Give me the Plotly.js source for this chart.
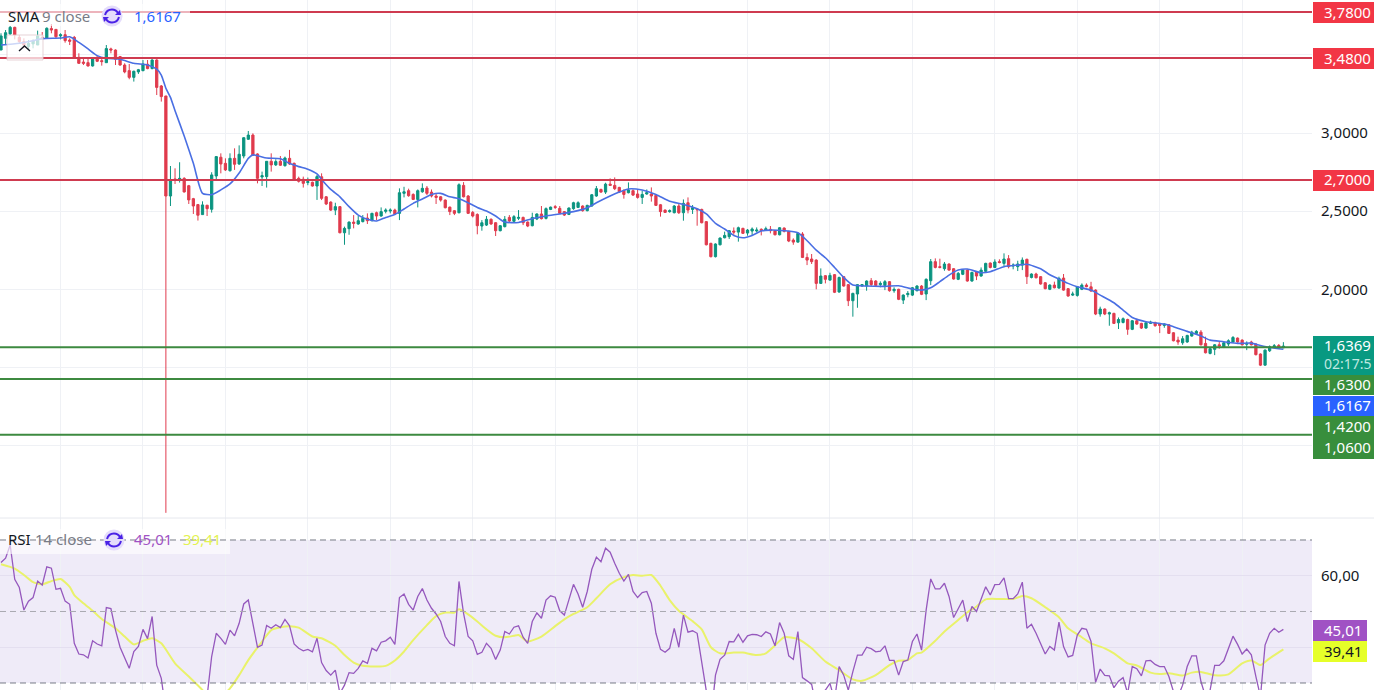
<!DOCTYPE html>
<html>
<head>
<meta charset="utf-8">
<script src="https://cdn.plot.ly/plotly-3.0.1.min.js"></script>
<style>html,body{margin:0;padding:0;background:#fff;overflow:hidden}#c{width:1374px;height:690px}</style>
</head>
<body>
<div id="c"></div>
<script>
const opens=[3.531,3.606,3.634,3.676,3.612,3.585,3.553,3.570,3.563,3.612,3.606,3.668,3.663,3.621,3.629,3.595,3.612,3.484,3.454,3.450,3.429,3.484,3.463,3.450,3.538,3.531,3.489,3.435,3.399,3.356,3.391,3.399,3.440,3.412,3.467,3.301,3.237,2.597,2.706,2.700,2.710,2.663,2.580,2.542,2.478,2.538,2.512,2.725,2.845,2.806,2.759,2.838,2.802,2.853,2.960,2.987,2.866,2.719,2.721,2.819,2.796,2.819,2.791,2.838,2.806,2.710,2.704,2.683,2.685,2.661,
2.720,2.592,2.558,2.507,2.529,2.362,2.388,2.430,2.418,2.433,2.456,2.439,2.490,2.469,2.499,2.501,2.507,2.486,2.614,2.631,2.607,2.575,2.624,2.648,2.622,2.597,2.592,2.571,2.526,2.503,2.490,2.665,2.597,2.492,2.479,2.405,2.411,2.448,2.426,2.375,2.401,2.460,2.435,2.454,2.460,2.430,2.407,2.450,2.482,2.454,2.511,2.529,2.518,2.497,2.479,2.516,2.524,2.533,2.503,2.533,2.597,2.639,2.622,2.673,2.665,2.652,2.633,2.618,2.631,2.610,2.588,2.610,2.610,2.601,2.541,2.507,2.497,2.490,2.533,2.490,2.554,
2.511,2.514,2.511,2.433,2.294,2.209,2.285,2.330,2.337,2.373,2.366,2.390,2.360,2.373,2.373,2.384,2.377,2.384,2.375,2.349,2.392,2.371,2.315,2.302,2.354,2.204,2.194,2.187,2.038,2.087,2.059,2.094,1.983,2.081,2.030,1.927,1.970,2.021,2.021,2.055,2.053,2.030,2.025,2.049,1.991,2.000,1.931,1.966,1.963,1.991,2.021,1.970,2.055,2.177,2.145,2.132,2.162,2.132,2.064,2.096,2.123,2.053,2.111,2.085,2.115,2.168,2.140,2.177,2.166,2.196,2.149,2.145,2.155,2.192,2.076,2.098,2.081,2.042,2.000,2.027,2.008,2.072,2.004,1.963,1.961,2.000,2.027,
2.016,1.995,1.842,1.874,1.842,1.846,1.786,1.788,1.807,1.744,1.799,1.782,1.752,1.782,1.788,1.778,1.769,1.773,1.722,1.675,1.658,1.663,1.701,1.718,1.726,1.654,1.590,1.616,1.645,1.628,1.650,1.663,1.688,1.675,1.648,1.663,1.650,1.586,1.515,1.607,1.631,1.641,1.626];
const highs=[3.638,3.659,3.685,3.680,3.627,3.606,3.595,3.599,3.655,3.646,3.676,3.697,3.663,3.638,3.659,3.606,3.621,3.510,3.478,3.478,3.484,3.493,3.484,3.563,3.546,3.535,3.493,3.446,3.442,3.399,3.410,3.467,3.467,3.472,3.472,3.307,3.237,2.789,2.774,2.813,2.717,2.668,2.585,2.546,2.563,2.540,2.749,2.853,2.870,2.838,2.870,2.902,2.921,2.973,3.013,2.998,2.870,2.753,2.821,2.870,2.832,2.853,2.849,2.892,2.811,2.721,2.721,2.715,2.689,2.732,
2.742,2.597,2.563,2.554,2.533,2.401,2.435,2.475,2.469,2.475,2.486,2.490,2.497,2.524,2.518,2.518,2.516,2.646,2.656,2.644,2.614,2.639,2.678,2.661,2.639,2.614,2.597,2.575,2.529,2.507,2.678,2.686,2.603,2.501,2.486,2.443,2.469,2.454,2.430,2.411,2.469,2.475,2.475,2.507,2.465,2.435,2.490,2.486,2.533,2.524,2.529,2.539,2.533,2.501,2.524,2.560,2.563,2.537,2.541,2.610,2.661,2.644,2.682,2.710,2.716,2.656,2.639,2.684,2.639,2.639,2.631,2.639,2.652,2.607,2.546,2.511,2.511,2.539,2.546,2.575,2.588,
2.539,2.516,2.516,2.437,2.298,2.294,2.332,2.369,2.379,2.396,2.401,2.394,2.386,2.396,2.396,2.390,2.401,2.405,2.379,2.398,2.396,2.375,2.326,2.362,2.366,2.230,2.226,2.192,2.134,2.091,2.106,2.098,2.081,2.085,2.034,1.978,2.034,2.034,2.057,2.072,2.059,2.051,2.059,2.053,2.013,2.004,1.968,1.989,2.015,2.027,2.027,2.070,2.194,2.198,2.196,2.175,2.166,2.136,2.111,2.130,2.128,2.113,2.115,2.140,2.170,2.172,2.192,2.192,2.230,2.219,2.166,2.183,2.204,2.196,2.102,2.106,2.085,2.047,2.032,2.049,2.081,2.098,2.008,1.985,2.021,2.038,2.038,
2.048,2.000,1.889,1.878,1.857,1.850,1.820,1.820,1.812,1.803,1.812,1.786,1.793,1.799,1.793,1.782,1.782,1.778,1.727,1.697,1.701,1.709,1.735,1.739,1.739,1.697,1.624,1.650,1.665,1.663,1.680,1.701,1.692,1.680,1.667,1.671,1.654,1.590,1.616,1.641,1.650,1.650,1.662];
const lows=[3.531,3.563,3.627,3.599,3.574,3.542,3.531,3.542,3.563,3.595,3.604,3.638,3.606,3.599,3.578,3.563,3.484,3.442,3.435,3.425,3.425,3.454,3.431,3.450,3.510,3.435,3.431,3.382,3.344,3.329,3.378,3.395,3.408,3.408,3.243,3.201,0.570,2.533,2.674,2.683,2.619,2.546,2.482,2.440,2.476,2.469,2.491,2.700,2.742,2.757,2.753,2.764,2.796,2.838,2.956,2.853,2.678,2.661,2.651,2.753,2.789,2.789,2.785,2.796,2.695,2.683,2.651,2.666,2.657,2.572,
2.571,2.539,2.501,2.475,2.358,2.285,2.349,2.390,2.413,2.428,2.418,2.435,2.443,2.465,2.486,2.486,2.479,2.443,2.588,2.592,2.571,2.524,2.618,2.603,2.588,2.546,2.561,2.518,2.475,2.475,2.486,2.588,2.482,2.460,2.352,2.375,2.405,2.413,2.341,2.371,2.396,2.430,2.430,2.443,2.411,2.398,2.403,2.443,2.447,2.447,2.507,2.514,2.482,2.469,2.475,2.509,2.520,2.497,2.499,2.529,2.592,2.618,2.610,2.661,2.635,2.616,2.580,2.614,2.597,2.580,2.546,2.605,2.561,2.533,2.465,2.490,2.490,2.486,2.482,2.439,2.486,
2.482,2.407,2.422,2.281,2.204,2.204,2.281,2.326,2.322,2.349,2.305,2.354,2.343,2.347,2.364,2.345,2.373,2.358,2.345,2.345,2.364,2.302,2.285,2.298,2.200,2.155,2.162,2.000,2.034,2.038,2.055,1.976,1.978,2.017,1.893,1.825,1.882,2.017,1.991,2.021,2.017,2.013,1.995,1.985,1.978,1.931,1.906,1.949,1.957,1.987,1.963,1.931,2.027,2.134,2.134,2.119,2.119,2.062,2.059,2.091,2.049,2.049,2.059,2.081,2.111,2.134,2.136,2.166,2.149,2.134,2.128,2.117,2.123,2.034,2.070,2.070,2.030,2.000,1.995,2.006,2.004,1.991,1.953,1.957,1.953,1.995,2.013,
1.984,1.835,1.825,1.835,1.767,1.778,1.746,1.782,1.709,1.739,1.773,1.746,1.748,1.778,1.761,1.720,1.754,1.714,1.667,1.645,1.645,1.658,1.697,1.714,1.641,1.590,1.584,1.579,1.620,1.624,1.637,1.658,1.658,1.641,1.611,1.641,1.577,1.509,1.511,1.599,1.622,1.620,1.624];
const closes=[3.621,3.642,3.676,3.627,3.585,3.563,3.574,3.591,3.621,3.604,3.670,3.659,3.616,3.629,3.591,3.587,3.484,3.446,3.446,3.429,3.478,3.459,3.457,3.540,3.531,3.472,3.435,3.391,3.356,3.395,3.405,3.442,3.412,3.467,3.292,3.233,2.597,2.700,2.700,2.710,2.623,2.572,2.533,2.474,2.540,2.516,2.732,2.849,2.802,2.764,2.838,2.800,2.864,2.970,2.987,2.857,2.710,2.727,2.819,2.796,2.817,2.794,2.840,2.802,2.700,2.691,2.678,2.689,2.661,2.721,
2.582,2.546,2.507,2.529,2.362,2.390,2.430,2.422,2.439,2.454,2.439,2.486,2.469,2.497,2.507,2.507,2.482,2.618,2.624,2.599,2.575,2.631,2.646,2.614,2.597,2.588,2.571,2.522,2.497,2.486,2.669,2.592,2.486,2.469,2.407,2.426,2.448,2.418,2.375,2.407,2.448,2.437,2.465,2.460,2.426,2.405,2.460,2.482,2.452,2.516,2.526,2.524,2.486,2.475,2.520,2.554,2.554,2.503,2.537,2.605,2.644,2.622,2.673,2.665,2.644,2.624,2.607,2.635,2.603,2.588,2.607,2.618,2.597,2.537,2.497,2.492,2.503,2.533,2.490,2.550,2.507,
2.522,2.509,2.426,2.285,2.209,2.290,2.328,2.345,2.375,2.366,2.394,2.358,2.379,2.386,2.379,2.375,2.388,2.375,2.349,2.394,2.371,2.309,2.302,2.358,2.204,2.187,2.177,2.038,2.085,2.064,2.089,1.981,2.076,2.021,1.927,1.974,2.030,2.030,2.053,2.030,2.025,2.038,2.049,1.991,2.000,1.936,1.963,1.974,2.010,2.021,1.968,2.064,2.177,2.140,2.140,2.162,2.123,2.066,2.102,2.123,2.053,2.108,2.085,2.123,2.166,2.140,2.175,2.172,2.194,2.145,2.155,2.162,2.187,2.081,2.098,2.074,2.034,2.004,2.027,2.010,2.070,1.995,1.957,1.970,2.017,2.027,2.017,
1.989,1.842,1.874,1.842,1.850,1.782,1.807,1.812,1.744,1.799,1.778,1.752,1.786,1.790,1.767,1.769,1.778,1.718,1.671,1.663,1.684,1.705,1.726,1.731,1.645,1.594,1.620,1.645,1.637,1.658,1.671,1.692,1.663,1.645,1.654,1.645,1.582,1.515,1.611,1.633,1.639,1.624,1.6369];

const smaIdx=[0,4,7,9,13,15,17,19,21,23,26,29,32,34,35,36,37,38,40,42,44,46,48,50,52,54,55,58,61,63,65,67,69,70,72,74,76,78,80,82,84,86,88,90,92,94,96,98,100,102,104,106,108,110,113,116,119,122,125,128,130,133,135,137,140,143,146,149,152,154,156,158,160,162,164,166,168,171,174,176,178,180,182,184,186,189,193,196,199,201,203,205,207,209,211,214,216,219,222,224,227,229,231,233,235,238,240,243,245,247,250,254,256,259,262,264,267,270,273,275,277,280];
const smaVal=[3.563,3.574,3.591,3.604,3.608,3.616,3.580,3.538,3.495,3.478,3.472,3.446,3.435,3.408,3.371,3.286,3.228,3.143,2.981,2.806,2.614,2.606,2.636,2.674,2.744,2.838,2.860,2.840,2.836,2.806,2.785,2.768,2.738,2.703,2.639,2.592,2.529,2.475,2.448,2.437,2.460,2.479,2.514,2.550,2.578,2.607,2.614,2.592,2.580,2.554,2.524,2.501,2.469,2.430,2.428,2.452,2.469,2.482,2.497,2.522,2.554,2.597,2.622,2.642,2.635,2.607,2.563,2.543,2.516,2.482,2.422,2.386,2.345,2.330,2.345,2.373,2.379,2.375,2.362,2.311,2.251,2.202,2.140,2.076,2.027,2.021,2.019,2.023,2.002,1.995,2.010,2.049,2.091,2.123,2.130,2.106,2.113,2.145,2.155,2.160,2.132,2.093,2.065,2.038,2.016,1.995,1.963,1.914,1.867,1.820,1.793,1.778,1.761,1.731,1.701,1.675,1.665,1.654,1.656,1.641,1.628,1.6167];

const rsiVal=[63.7,64.9,68.6,59.0,56.7,50.4,52.9,53.9,58.5,57.4,62.5,62.1,56.2,56.5,52.9,52.0,41.1,38.1,37.9,37.0,41.8,40.9,40.4,51.1,50.8,44.8,40.0,36.9,34.1,38.8,40.2,45.0,42.4,48.6,35.0,31.3,22.0,24.5,24.0,24.8,23.2,22.3,21.4,20.6,22.2,26.2,37.4,43.9,42.5,40.8,44.8,43.2,46.7,52.1,53.2,46.7,40.0,40.6,46.1,45.3,46.3,45.5,47.8,46.0,40.9,39.7,39.0,39.4,38.7,42.5,35.7,33.5,32.2,33.6,27.1,29.4,32.9,32.7,34.1,36.2,35.5,39.7,39.0,41.4,41.8,42.8,40.8,53.9,54.9,52.0,50.4,54.2,56.4,53.2,50.9,49.3,47.2,43.0,41.1,40.4,
58.4,49.5,43.0,41.8,38.0,38.6,41.1,39.7,36.6,39.2,44.4,43.7,45.6,46.0,42.8,41.1,47.2,49.6,48.1,53.2,54.4,54.0,50.2,49.0,53.2,57.6,54.9,51.2,55.6,61.8,65.2,63.9,67.7,66.6,63.5,60.7,58.5,60.4,55.6,53.9,55.3,55.6,52.3,43.9,39.4,38.6,39.7,45.3,40.0,49.0,44.2,44.6,43.9,35.5,27.6,19.7,32.2,36.6,37.8,41.6,41.5,43.6,41.4,43.2,43.6,43.5,43.0,44.3,43.7,40.4,46.9,43.9,37.6,36.6,44.4,31.5,30.6,29.6,23.4,27.1,28.0,29.9,25.2,34.6,32.2,28.0,33.2,37.8,37.8,40.0,39.6,38.7,38.9,40.4,36.3,36.3,32.2,36.0,36.4,41.6,43.7,
39.2,50.4,59.1,56.3,56.3,57.9,54.2,48.3,50.9,53.2,47.2,51.4,50.0,53.2,56.9,54.6,57.5,57.6,59.4,53.6,53.6,54.9,58.2,45.3,46.4,43.9,41.1,38.1,40.2,39.2,47.0,40.2,37.3,37.7,43.4,45.3,45.0,41.6,30.2,33.9,32.1,32.0,28.7,30.5,31.5,27.1,34.6,34.0,32.0,36.2,36.3,35.2,34.6,34.6,31.8,27.6,26.2,29.4,34.6,37.6,37.6,30.4,26.2,28.0,34.9,34.9,36.2,39.4,43.1,40.8,38.1,39.5,37.9,31.8,26.2,40.6,43.9,45.3,44.2,45.01];

const rsiMaIdx=[0,3,5,7,9,11,13,15,16,18,20,22,25,27,29,31,33,35,38,41,44,46,48,50,52,54,57,59,61,63,65,68,70,73,75,77,79,82,84,86,88,90,93,95,97,99,100,102,104,106,108,110,112,113,115,118,121,123,125,128,130,133,136,138,140,142,144,146,148,151,153,155,157,160,162,165,167,169,171,174,177,180,183,186,188,191,194,196,198,200,201,204,206,209,211,213,215,218,221,223,225,228,231,233,236,238,241,243,246,248,251,253,255,258,260,262,265,268,271,273,275,277,280];
const rsiMaVal=[63.2,62.0,60.2,58.2,57.6,58.5,59.1,56.9,54.6,52.3,50.2,47.9,45.3,43.0,40.8,41.8,42.5,41.1,35.5,31.8,28.0,24.8,26.2,28.5,32.2,36.4,41.6,44.8,45.6,45.9,45.5,43.0,42.5,40.4,37.8,35.7,34.8,34.6,34.8,36.3,38.8,42.0,46.2,48.7,49.7,49.7,50.6,49.2,47.2,45.0,43.2,42.8,43.2,43.4,41.6,43.0,45.9,47.8,49.3,51.2,53.7,57.6,59.6,60.2,60.0,60.2,57.2,53.2,50.2,47.3,45.0,40.0,38.3,38.5,38.5,37.8,38.3,40.5,42.8,42.3,39.7,36.0,33.6,31.0,30.6,32.2,35.0,36.2,36.4,38.3,38.5,41.8,44.4,47.6,49.8,51.4,53.4,53.5,53.5,54.3,53.7,51.2,48.4,45.3,42.8,41.1,39.7,38.3,35.5,34.9,32.9,32.5,32.7,32.1,32.9,33.1,32.2,32.4,35.5,36.3,35.0,36.9,39.41];

const gridIdx=[13,31,49,67,85,103,121,139,163,181,199,217,235,253,271];
const priceTicks=[1,1.5,2,2.5,3,3.5];
const priceTickText=['','','2,0000','2,5000','3,0000',''];
const rsiTicks=[40,60];
const rsiTickText=['','60,00'];
const resistance=[3.775,3.48,2.70];
const resistanceText=['3,7800','3,4800','2,7000'];
const support=[1.63,1.426,1.07];
const rsiBands=[70,50,30];

const W=1374,H=690,F='"Noto Sans", "Open Sans", sans-serif';
const px=x=>x/W, py=y=>1-y/H;
const idx=closes.map((_,i)=>i);

const traces=[
 {type:'candlestick',x:idx,open:opens,high:highs,low:lows,close:closes,xaxis:'x',yaxis:'y',whiskerwidth:0,
  increasing:{line:{color:'#0b9480',width:1},fillcolor:'#0b9480'},
  decreasing:{line:{color:'#e03b4d',width:1},fillcolor:'#e03b4d'},hoverinfo:'skip',showlegend:false},
 {type:'scatter',mode:'lines',x:smaIdx,y:smaVal,xaxis:'x',yaxis:'y',line:{color:'#4a6fe3',width:1.6,shape:'spline',smoothing:0.6},hoverinfo:'skip',showlegend:false},
 {type:'scatter',mode:'lines',x:rsiMaIdx,y:rsiMaVal,xaxis:'x',yaxis:'y2',line:{color:'#e9f26a',width:2,shape:'spline',smoothing:0.6},hoverinfo:'skip',showlegend:false},
 {type:'scatter',mode:'lines',x:idx,y:rsiVal,xaxis:'x',yaxis:'y2',line:{color:'#9558bd',width:1.3},hoverinfo:'skip',showlegend:false}
];

const shapes=[], anns=[];
shapes.push({type:'rect',xref:'x',yref:'y2',x0:-0.218,x1:286.25,y0:30,y1:70,fillcolor:'rgba(126,87,194,0.12)',line:{width:0},layer:'below'});
// legend veils sit under the dashed RSI line so the dashes run through the text
shapes.push({type:'rect',xref:'paper',yref:'paper',x0:0,x1:px(230),y0:py(529),y1:py(554),fillcolor:'rgba(255,255,255,0.62)',line:{width:0},layer:'above'});
rsiBands.forEach((v,i)=>shapes.push({type:'line',xref:'paper',yref:'y2',x0:0,x1:px(1312),y0:v,y1:v,layer:'above',
  line:{color:i==1?'#a9a9b2':'#787b86',width:1,dash:'6px,4px'}}));
resistance.forEach(v=>shapes.push({type:'line',xref:'paper',yref:'y',x0:0,x1:px(1312),y0:v,y1:v,line:{color:'#cf3b50',width:2},layer:'above'}));
support.forEach(v=>shapes.push({type:'line',xref:'paper',yref:'y',x0:0,x1:px(1312),y0:v,y1:v,line:{color:'#3d8a40',width:2},layer:'above'}));
shapes.push({type:'line',xref:'paper',yref:'paper',x0:0,x1:1,y0:py(518),y1:py(518),line:{color:'#e6e8ee',width:1},layer:'above'});

function textAt(x,y,txt,col,size){anns.push({xref:'paper',yref:'paper',x:px(x),y:py(y),xanchor:'left',yanchor:'middle',text:txt,showarrow:false,borderpad:0,font:{family:F,size:size||15,color:col}});}
function tag(y0,y1,col,txt,tcol,x1){
  x1=x1||1374;
  shapes.push({type:'rect',xref:'paper',yref:'paper',x0:px(1313),x1:px(x1),y0:py(y0),y1:py(y1),fillcolor:col,line:{width:0},layer:'above'});
  textAt(1323,(y0+y1)/2-1,txt,tcol);
}
[[2,23],[48,69],[170,191]].forEach((r,i)=>tag(r[0],r[1],'#f23645',resistanceText[i],'#ffffff'));
shapes.push({type:'rect',xref:'paper',yref:'paper',x0:px(1313),x1:px(1374),y0:py(336),y1:py(375),fillcolor:'#089981',line:{width:0},layer:'above'});
textAt(1323,345,'1,6369','#ffffff');
textAt(1323,363,'02:17:5','#bfe8e0',14);
tag(375,395,'#388e3c','1,6300','#ffffff');
tag(396,416,'#2962ff','1,6167','#ffffff');
tag(416,437,'#388e3c','1,4200','#ffffff');
tag(437,459,'#388e3c','1,0600','#ffffff');
tag(620,641,'#a052c4','45,01','#ffffff',1367);
tag(641,662,'#e6ff29','39,41','#131722',1367);

shapes.push({type:'rect',xref:'paper',yref:'paper',x0:0,x1:px(190),y0:py(4),y1:py(26),fillcolor:'rgba(255,255,255,0.62)',line:{width:0},layer:'above'});
shapes.push({type:'rect',xref:'paper',yref:'paper',x0:px(7),x1:px(43),y0:py(35),y1:py(60),fillcolor:'rgba(255,255,255,0.72)',line:{color:'rgba(224,200,205,0.8)',width:1},layer:'above'});
shapes.push({type:'path',xref:'paper',yref:'paper',path:`M${px(19)},${py(51)} L${px(24.5)},${py(46)} L${px(30)},${py(51)}`,line:{color:'#131722',width:1.4},layer:'above'});
function icon(cx,cy){
  shapes.push({type:'circle',xref:'paper',yref:'paper',x0:px(cx-10.5),x1:px(cx+10.5),y0:py(cy-10.5),y1:py(cy+10.5),fillcolor:'#e4dcfb',line:{width:0},layer:'above'});
  const c='#4a22e6';
  shapes.push({type:'path',xref:'paper',yref:'paper',layer:'above',line:{color:c,width:2},
    path:`M${px(cx-7)},${py(cy-1)} Q${px(cx-5.5)},${py(cy-6.5)} ${px(cx)},${py(cy-6.5)} Q${px(cx+4)},${py(cy-6.5)} ${px(cx+6)},${py(cy-3)}`});
  shapes.push({type:'path',xref:'paper',yref:'paper',layer:'above',line:{color:c,width:2},
    path:`M${px(cx+7)},${py(cy+1)} Q${px(cx+5.5)},${py(cy+6.5)} ${px(cx)},${py(cy+6.5)} Q${px(cx-4)},${py(cy+6.5)} ${px(cx-6)},${py(cy+3)}`});
  shapes.push({type:'path',xref:'paper',yref:'paper',layer:'above',line:{width:0},fillcolor:c,
    path:`M${px(cx+3)},${py(cy-1)} L${px(cx+9)},${py(cy-1)} L${px(cx+8)},${py(cy-6)} Z`});
  shapes.push({type:'path',xref:'paper',yref:'paper',layer:'above',line:{width:0},fillcolor:c,
    path:`M${px(cx-3)},${py(cy+1)} L${px(cx-9)},${py(cy+1)} L${px(cx-8)},${py(cy+6)} Z`});
}
icon(112,16); icon(114,540);
textAt(7,16,'SMA','#131722');
textAt(41,16,'9 close','#787b86');
textAt(133,16,'1,6167','#2962ff');
textAt(7,539,'RSI','#131722');
textAt(34,539,'14 close','#787b86');
textAt(133,539,'45,01','#a052c4');
textAt(182,539,'39,41','#e3f24f');

const layout={width:W,height:H,margin:{l:0,r:0,t:0,b:0},paper_bgcolor:'#fff',plot_bgcolor:'#fff',showlegend:false,
 xaxis:{domain:[0,1312/W],range:[-0.218,286.25],type:'linear',rangeslider:{visible:false},tickmode:'array',tickvals:gridIdx,ticktext:gridIdx.map(()=>''),showgrid:true,gridcolor:'#eff1f5',gridwidth:1,zeroline:false,showline:false,ticks:'',anchor:'y2',fixedrange:true},
 yaxis:{domain:[172/H,1],range:[0.537,3.851],side:'right',anchor:'x',tickmode:'array',tickvals:priceTicks,ticktext:priceTickText,showgrid:true,gridcolor:'#eff1f5',zeroline:false,showline:false,ticks:'',tickfont:{family:F,size:15,color:'#131722'},ticklabelstandoff:8,fixedrange:true},
 yaxis2:{domain:[0,172/H],range:[28.04,76.15],side:'right',anchor:'x',tickmode:'array',tickvals:rsiTicks,ticktext:rsiTickText,showgrid:true,gridcolor:'#e4dff0',zeroline:false,showline:false,ticks:'',tickfont:{family:F,size:15,color:'#131722'},ticklabelstandoff:8,fixedrange:true},
 shapes:shapes,annotations:anns};
Plotly.newPlot('c',traces,layout,{displayModeBar:false,staticPlot:true});
</script>
</body>
</html>
